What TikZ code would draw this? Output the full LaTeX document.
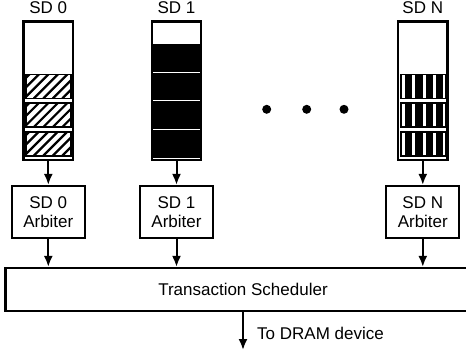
\documentclass[tikz,border=0pt]{standalone}
\usepackage{fontspec}
\setmainfont{Liberation Sans}
\usetikzlibrary{arrows.meta, positioning}

\begin{document}
\begin{tikzpicture}[
  x=1pt, y=-1pt,
  font=\fontsize{17}{19.5}\selectfont,
  queue/.style={draw, line width=2.4pt, minimum width=49.5pt, minimum height=138.5pt, inner sep=0pt},
  hatchslot/.style={draw, line width=1.6pt, minimum width=45pt, minimum height=24pt, inner sep=0pt,
    path picture={\foreach \d in {-30,-20.5,...,50}
      \draw[line width=2.2pt] ([xshift=\d pt]path picture bounding box.south west) -- ++(30,-30);}},
  stripeslot/.style={draw, fill=black, line width=1.6pt, minimum width=45pt, minimum height=24pt, inner sep=0pt,
    path picture={\foreach \d in {3.2,13.5,23.8,34.1,44.4}
      \draw[white, line width=3pt] ([xshift=\d pt]path picture bounding box.south west) -- ++(0,-30);}},
  fullslot/.style={fill=black, minimum width=47.5pt, minimum height=27.6pt, inner sep=0pt},
  box/.style={draw, line width=2.2pt, minimum width=73pt, minimum height=52pt, align=center, inner sep=0pt},
  arr/.style={line width=2pt, -{Latex[length=11pt, width=9pt]}}
]
  \useasboundingbox (0,0) rectangle (466,356);

  % Queue SD 0
  \node at (48.3, 8) (l0) {SD 0};
  \node[hatchslot] (s01) at (48.3, 86.5) {};
  \node[hatchslot] (s02) at (48.3, 115.1) {};
  \node[hatchslot] (s03) at (48.3, 143.7) {};
  \node[queue] (q0) at (48.3, 90.8) {};

  % Queue SD 1
  \node at (176.5, 8) (l1) {SD 1};
  \node[fullslot] (s11) at (176.5, 57.9) {};
  \node[fullslot] (s12) at (176.5, 86.5) {};
  \node[fullslot] (s13) at (176.5, 115.1) {};
  \node[fullslot] (s14) at (176.5, 143.7) {};
  \node[queue] (q1) at (176.5, 90.8) {};

  % Queue SD N
  \node at (422.8, 8) (ln) {SD N};
  \node[stripeslot] (sn1) at (422.8, 86.5) {};
  \node[stripeslot] (sn2) at (422.8, 115.1) {};
  \node[stripeslot] (sn3) at (422.8, 143.7) {};
  \node[queue] (qn) at (422.8, 90.8) {};

  % dots
  \fill (266.7, 109.3) circle (4.5pt);
  \fill (306.7, 109.3) circle (4.5pt);
  \fill (344, 109.3) circle (4.5pt);

  % Arbiters
  \node[box] (a0) at (48.3, 212) {SD 0\\Arbiter};
  \node[box] (a1) at (176.5, 212) {SD 1\\Arbiter};
  \node[box] (an) at (422.8, 212) {SD N\\Arbiter};

  % Scheduler
  \node[draw, line width=2.2pt, minimum width=475pt, minimum height=43pt] (sched) at (243, 289.5) {Transaction Scheduler};
  \coordinate (dram) at (243, 350);
  \node[anchor=west, inner sep=0pt] (todram) at (257, 333) {To DRAM device};

  \draw[arr] (q0.south) -- (q0.south |- a0.north);
  \draw[arr] (q1.south) -- (q1.south |- a1.north);
  \draw[arr] (qn.south) -- (qn.south |- an.north);
  \draw[arr] (a0.south) -- (a0.south |- sched.north);
  \draw[arr] (a1.south) -- (a1.south |- sched.north);
  \draw[arr] (an.south) -- (an.south |- sched.north);
  \draw[arr] (sched.south) -- (dram);
\end{tikzpicture}
\end{document}
